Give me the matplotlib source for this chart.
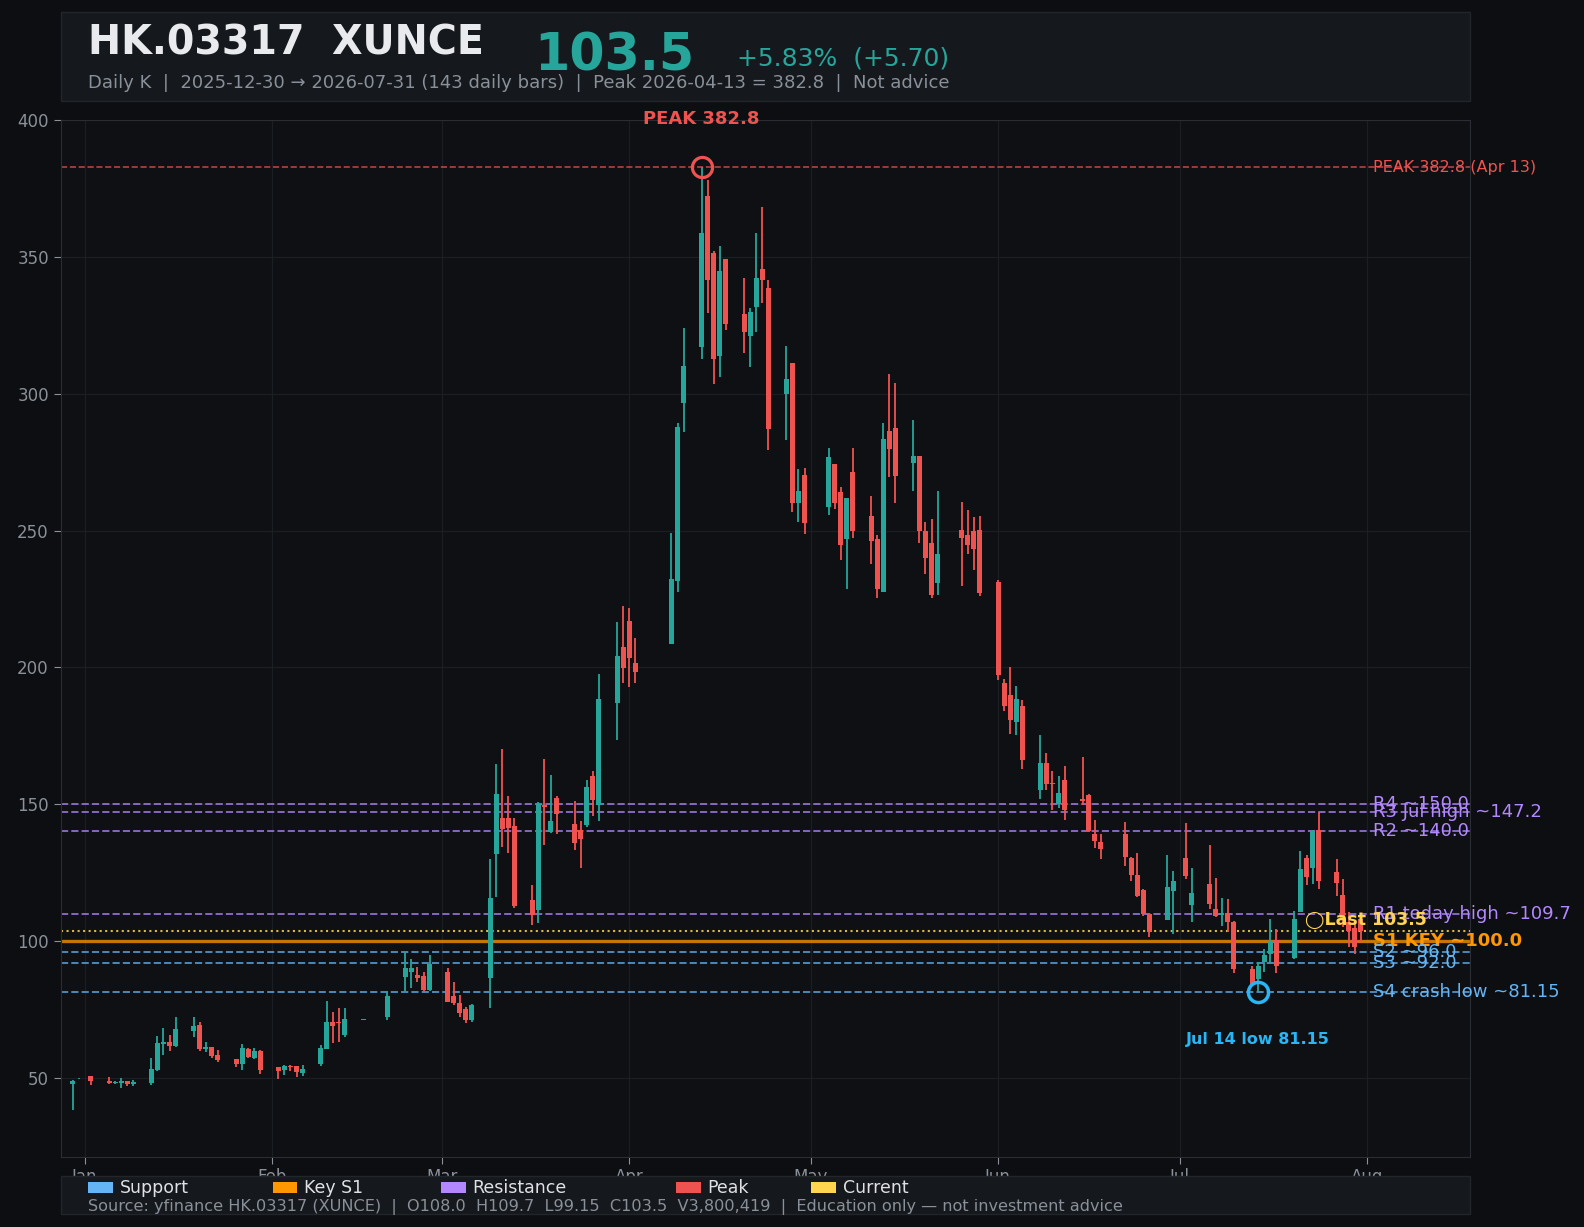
import matplotlib
matplotlib.use('Agg')
from matplotlib import pyplot as plt
import matplotlib.dates as mdates
from matplotlib.patches import Rectangle
import pandas as pd

# daily bars
dates = ['2025-12-30', '2025-12-31',
         '2026-01-02', '2026-01-05', '2026-01-06', '2026-01-07', '2026-01-08', '2026-01-09',
         '2026-01-12', '2026-01-13', '2026-01-14', '2026-01-15', '2026-01-16',
         '2026-01-19', '2026-01-20', '2026-01-21', '2026-01-22', '2026-01-23',
         '2026-01-26', '2026-01-27', '2026-01-28', '2026-01-29', '2026-01-30',
         '2026-02-02', '2026-02-03', '2026-02-04', '2026-02-05', '2026-02-06',
         '2026-02-09', '2026-02-10', '2026-02-11', '2026-02-12', '2026-02-13',
         '2026-02-16', '2026-02-20',
         '2026-02-23', '2026-02-24', '2026-02-25', '2026-02-26', '2026-02-27',
         '2026-03-02', '2026-03-03', '2026-03-04', '2026-03-05', '2026-03-06',
         '2026-03-09', '2026-03-10', '2026-03-11', '2026-03-12', '2026-03-13',
         '2026-03-16', '2026-03-17', '2026-03-18', '2026-03-19', '2026-03-20',
         '2026-03-23', '2026-03-24', '2026-03-25', '2026-03-26', '2026-03-27',
         '2026-03-30', '2026-03-31', '2026-04-01', '2026-04-02',
         '2026-04-08', '2026-04-09', '2026-04-10',
         '2026-04-13', '2026-04-14', '2026-04-15', '2026-04-16', '2026-04-17',
         '2026-04-20', '2026-04-21', '2026-04-22', '2026-04-23', '2026-04-24',
         '2026-04-27', '2026-04-28', '2026-04-29', '2026-04-30',
         '2026-05-04', '2026-05-05', '2026-05-06', '2026-05-07', '2026-05-08',
         '2026-05-11', '2026-05-12', '2026-05-13', '2026-05-14', '2026-05-15',
         '2026-05-18', '2026-05-19', '2026-05-20', '2026-05-21', '2026-05-22',
         '2026-05-26', '2026-05-27', '2026-05-28', '2026-05-29',
         '2026-06-01', '2026-06-02', '2026-06-03', '2026-06-04', '2026-06-05',
         '2026-06-08', '2026-06-09', '2026-06-10', '2026-06-11', '2026-06-12',
         '2026-06-15', '2026-06-16', '2026-06-17', '2026-06-18',
         '2026-06-22', '2026-06-23', '2026-06-24', '2026-06-25', '2026-06-26',
         '2026-06-29', '2026-06-30', '2026-07-02', '2026-07-03',
         '2026-07-06', '2026-07-07', '2026-07-08', '2026-07-09', '2026-07-10',
         '2026-07-13', '2026-07-14', '2026-07-15', '2026-07-16', '2026-07-17',
         '2026-07-20', '2026-07-21', '2026-07-22', '2026-07-23', '2026-07-24',
         '2026-07-27', '2026-07-28', '2026-07-29', '2026-07-30', '2026-07-31']

opens = [47.8, 49.7,
         50.6, 48.8, 48.0, 48.1, 48.7, 47.8,
         48.1, 52.9, 62.4, 63.1, 61.7,
         66.9, 69.3, 60.3, 61.2, 58.3,
         56.7, 55.1, 60.4, 57.3, 59.8,
         53.9, 52.8, 54.3, 54.3, 51.8,
         55.0, 60.5, 70.4, 70.4, 65.6,
         71.0, 72.0,
         86.7, 88.8, 87.6, 87.2, 82.2,
         88.6, 80.0, 77.3, 75.2, 71.0,
         86.6, 131.7, 145.1, 145.1, 142.0,
         115.0, 111.4, 149.6, 139.8, 152.2,
         142.9, 140.6, 142.4, 160.1, 149.6,
         186.8, 207.3, 216.9, 201.4,
         208.7, 231.7, 296.6,
         317.1, 372.2, 351.4, 313.7, 349.2,
         329.1, 321.0, 331.7, 345.6, 338.6,
         299.8, 311.2, 259.9, 270.2,
         258.5, 274.2, 264.0, 246.8, 271.3,
         255.2, 246.8, 227.7, 286.3, 287.4,
         274.6, 277.1, 249.7, 245.3, 231.0,
         250.1, 248.2, 249.7, 250.1,
         231.3, 194.1, 190.0, 179.9, 186.0,
         155.0, 165.2, 157.8, 149.9, 158.9,
         152.0, 153.5, 139.2, 136.3,
         139.2, 130.4, 124.2, 118.7, 109.9,
         107.8, 118.1, 130.4, 113.0,
         120.9, 111.8, 109.5, 110.1, 107.0,
         89.8, 85.9, 92.4, 95.3, 100.4,
         93.8, 110.7, 130.4, 126.8, 140.7,
         125.3, 116.9, 107.0, 104.7, 108.0]

highs = [49.2, 49.9,
         50.7, 50.4, 48.9, 49.8, 48.7, 49.2,
         57.0, 65.3, 68.3, 65.6, 72.2,
         72.2, 70.4, 63.1, 61.3, 60.1,
         56.8, 62.2, 60.9, 60.9, 60.1,
         54.0, 54.8, 54.8, 54.4, 54.5,
         61.9, 78.1, 74.1, 75.5, 75.3,
         71.2, 81.5,
         95.8, 93.2, 90.3, 88.8, 95.0,
         90.0, 85.1, 80.3, 76.0, 77.0,
         130.1, 164.8, 170.3, 152.8, 144.9,
         120.5, 150.6, 166.6, 160.5, 152.8,
         151.0, 143.9, 158.9, 162.0, 197.4,
         216.7, 222.4, 221.7, 210.6,
         249.2, 289.4, 324.2,
         382.8, 378.2, 352.3, 354.0, 349.3,
         342.3, 331.3, 358.7, 368.2, 341.5,
         317.4, 311.3, 272.4, 272.7,
         280.1, 274.3, 265.8, 262.0, 280.1,
         262.5, 248.2, 289.2, 307.1, 303.8,
         290.3, 277.2, 253.0, 254.1, 264.3,
         260.3, 257.4, 254.8, 255.2,
         232.1, 195.9, 200.0, 193.3, 188.2,
         175.2, 168.5, 162.2, 160.4, 164.1,
         167.4, 153.6, 144.3, 139.2,
         143.6, 130.5, 132.2, 118.8, 110.0,
         131.5, 125.7, 143.2, 126.7,
         135.2, 123.1, 115.8, 115.4, 107.1,
         90.9, 92.4, 97.1, 108.1, 104.4,
         111.0, 133.0, 131.5, 140.4, 147.2,
         130.0, 122.7, 110.6, 107.5, 109.7]

lows = [38.2, 49.6,
        47.3, 47.6, 47.7, 46.3, 47.0, 47.0,
        47.2, 52.5, 58.3, 59.8, 61.3,
        64.7, 59.8, 59.4, 57.3, 55.8,
        53.9, 52.9, 57.2, 56.7, 51.4,
        49.4, 51.0, 52.3, 50.2, 50.5,
        54.3, 60.5, 62.8, 63.1, 64.9,
        71.0, 70.9,
        81.5, 82.8, 84.9, 81.8, 81.5,
        77.5, 76.4, 72.0, 70.0, 70.5,
        75.4, 116.0, 134.3, 132.1, 112.0,
        105.9, 106.5, 135.1, 139.5, 139.0,
        133.3, 126.6, 141.8, 145.5, 143.9,
        173.6, 194.1, 192.9, 194.3,
        208.5, 227.4, 286.0,
        312.6, 329.7, 303.5, 306.0, 323.2,
        314.8, 309.7, 322.5, 333.1, 279.3,
        283.0, 256.7, 253.0, 248.6,
        255.6, 257.7, 239.1, 228.8, 247.1,
        237.6, 225.4, 227.4, 269.5, 259.9,
        264.3, 245.3, 234.3, 225.4, 226.3,
        229.9, 241.3, 235.4, 225.9,
        195.3, 184.0, 175.8, 175.4, 163.0,
        152.0, 155.0, 147.7, 148.7, 144.1,
        149.6, 139.7, 134.1, 130.0,
        127.5, 122.0, 116.1, 109.2, 101.3,
        107.7, 102.4, 122.7, 106.8,
        111.5, 108.6, 105.3, 103.1, 88.3,
        83.6, 81.15, 88.7, 92.0, 88.3,
        93.5, 110.6, 120.5, 120.9, 119.1,
        116.5, 105.0, 97.6, 95.3, 99.15]

closes = [48.7, 49.8,
          48.8, 48.1, 48.4, 48.6, 47.8, 48.4,
          53.2, 62.7, 62.9, 61.7, 67.8,
          68.9, 60.3, 61.2, 58.0, 56.6,
          55.1, 60.9, 57.6, 59.8, 52.9,
          52.5, 54.3, 54.0, 52.1, 53.2,
          60.9, 70.4, 68.9, 69.9, 71.5,
          71.1, 80.0,
          90.2, 90.2, 86.4, 82.2, 91.6,
          77.8, 77.2, 73.5, 71.0, 76.4,
          115.8, 153.8, 140.8, 141.4, 112.6,
          109.5, 150.0, 149.0, 143.9, 146.5,
          135.8, 137.4, 156.1, 151.6, 188.4,
          204.1, 199.6, 203.3, 198.4,
          232.3, 288.0, 310.0,
          358.8, 341.5, 312.6, 344.8, 325.4,
          322.5, 329.8, 342.3, 341.5, 287.0,
          305.3, 259.9, 264.3, 252.6,
          276.8, 259.9, 244.6, 261.8, 249.7,
          246.0, 228.5, 283.4, 279.7, 269.8,
          277.1, 249.7, 240.0, 226.6, 241.6,
          247.1, 244.6, 243.1, 227.0,
          197.1, 185.8, 180.7, 188.6, 166.0,
          165.2, 157.4, 157.2, 154.2, 147.7,
          151.2, 140.3, 136.6, 133.7,
          130.5, 124.2, 116.5, 109.7, 103.1,
          119.8, 122.0, 123.8, 117.6,
          113.3, 109.0, 110.1, 106.8, 89.6,
          83.9, 90.9, 94.9, 100.0, 90.9,
          108.1, 126.4, 123.5, 140.3, 122.0,
          121.3, 108.5, 103.7, 97.8, 103.5]

# key levels
level_names = ['R4 ~150.0', 'R3 Jul high ~147.2', 'R2 ~140.0', 'R1 today high ~109.7',
               'S1 KEY ~100.0', 'S2 ~96.0', 'S3 ~92.0', 'S4 crash low ~81.15']
level_values = [150.0, 147.2, 140.0, 109.7, 100.0, 96.0, 92.0, 81.15]
level_kinds = ['R', 'R', 'R', 'R', 'K', 'S', 'S', 'S']

peak_value = 382.8
peak_date = '2026-04-13'
low_value = 81.15
low_date = '2026-07-14'
last_value = 103.5

legend_names = ['Support', 'Key S1', 'Resistance', 'Peak', 'Current']

UP = '#26a69a'
DOWN = '#ef5350'
BG = '#0c0e11'
PANEL = '#15181c'
kind_line = {'R': '#b388ff', 'S': '#64b5f6', 'K': '#ff9800'}
legend_colors = ['#64b5f6', '#ff9800', '#b388ff', '#ef5350', '#ffd54f']

x = mdates.date2num(pd.to_datetime(dates))
colors = [UP if c >= o else DOWN for o, c in zip(opens, closes)]

fig = plt.figure(figsize=(15.84, 12.27), dpi=100, facecolor=BG)
ax = fig.add_axes([0.0383, 0.0573, 0.8896, 0.8447])
ax.set_facecolor('#0e1013')

ax.vlines(x, lows, highs, colors=colors, lw=1.3, zorder=3)
bottoms = [min(o, c) for o, c in zip(opens, closes)]
heights = [max(abs(c - o), 0.35) for o, c in zip(opens, closes)]
ax.bar(x, heights, bottom=bottoms, width=0.82, color=colors, lw=0, zorder=4)

label_x = mdates.date2num(pd.Timestamp('2026-08-02'))
for name, val, kind in zip(level_names, level_values, level_kinds):
    if kind == 'K':
        ax.axhline(val, color=kind_line[kind], lw=2.4, alpha=0.75, zorder=2)
        ax.text(label_x, val, name, color='#ff9800', fontsize=13, fontweight='bold',
                va='center', ha='left', zorder=6)
    else:
        ax.axhline(val, color=kind_line[kind], lw=1.4, ls='--', alpha=0.72, zorder=2)
        ax.text(label_x, val, name, color=kind_line[kind], fontsize=13,
                va='center', ha='left', zorder=6)

# peak
px = mdates.date2num(pd.Timestamp(peak_date))
ax.axhline(peak_value, color=DOWN, lw=1.2, ls='--', alpha=0.75, zorder=2)
ax.text(label_x, peak_value, 'PEAK 382.8 (Apr 13)', color=DOWN, fontsize=11.5,
        va='center', ha='left', zorder=6)
ax.plot([px], [peak_value], 'o', ms=14.5, mfc='none', mec=DOWN, mew=2.3, zorder=6)
ax.text(px, 400.3, 'PEAK 382.8', color=DOWN, fontsize=13, fontweight='bold',
        ha='center', va='center', zorder=6)

# current
lx = x[-1] + 0.8
ax.axhline(last_value, color='#ffd54f', lw=1.5, ls=':', alpha=0.85, zorder=2)
ax.text(lx, 107.6, '\u25efLast 103.5', color='#ffd54f', fontsize=12.5, fontweight='bold',
        ha='center', va='center', zorder=7)

# crash low
wx = mdates.date2num(pd.Timestamp(low_date))
ax.plot([wx], [low_value], 'o', ms=14.5, mfc='none', mec='#29b6f6', mew=2.5, zorder=6)
ax.text(wx, 64.1, 'Jul 14 low 81.15', color='#29b6f6', fontsize=11.5, fontweight='bold',
        ha='center', va='center', zorder=6)

ax.set_xlim(mdates.date2num(pd.Timestamp('2025-12-28')), mdates.date2num(pd.Timestamp('2026-08-18')))
ax.set_ylim(21.1, 400)
ax.set_yticks([50, 100, 150, 200, 250, 300, 350, 400])
ax.xaxis.set_major_locator(mdates.MonthLocator())
ax.xaxis.set_major_formatter(mdates.DateFormatter('%b'))
ax.tick_params(colors='#8b9099', labelsize=12, length=5)
ax.grid(True, color='#1b1e23', lw=0.9)
ax.set_axisbelow(True)
for s in ax.spines.values():
    s.set_color('#2a2e34')

# header panel
fig.add_artist(Rectangle((0.0383, 0.9177), 0.8896, 0.0725, transform=fig.transFigure,
                         facecolor=PANEL, edgecolor='#22262b', lw=1, zorder=1))
fig.text(0.0556, 0.9552, 'HK.03317  XUNCE', color='#e8eaed', fontsize=28.5,
         fontweight='bold', va='baseline', zorder=3)
fig.text(0.3375, 0.9424, '103.5', color=UP, fontsize=36.5, fontweight='bold',
         va='baseline', zorder=3)
fig.text(0.4655, 0.947, '+5.83%  (+5.70)', color=UP, fontsize=18, va='baseline', zorder=3)
fig.text(0.0556, 0.9283,
         'Daily K  |  2025-12-30 \u2192 2026-07-31 (143 daily bars)  |  Peak 2026-04-13 = 382.8  |  Not advice',
         color='#8a9099', fontsize=13, va='baseline', zorder=3)

# footer panel with legend, drawn over the month labels
fig.add_artist(Rectangle((0.0383, 0.0106), 0.8896, 0.031, transform=fig.transFigure,
                         facecolor=PANEL, edgecolor='#22262b', lw=1, zorder=5))
sq_x = [88.1, 272.6, 441.0, 676.0, 811.0]
for name, col, sx in zip(legend_names, legend_colors, sq_x):
    fig.add_artist(Rectangle((sx / 1584, 0.028), 0.0155, 0.009, transform=fig.transFigure,
                             facecolor=col, lw=0, zorder=6))
    fig.text((sx + 31.5) / 1584, 0.0277, name, color='#dfe1e4', fontsize=12.5,
             va='baseline', zorder=7)
fig.text(0.0556, 0.0132,
         'Source: yfinance HK.03317 (XUNCE)  |  O108.0  H109.7  L99.15  C103.5  V3,800,419  |  '
         'Education only \u2014 not investment advice',
         color='#8a9099', fontsize=11.65, va='baseline', zorder=7)

plt.savefig('out.png', dpi=100, facecolor=BG)
